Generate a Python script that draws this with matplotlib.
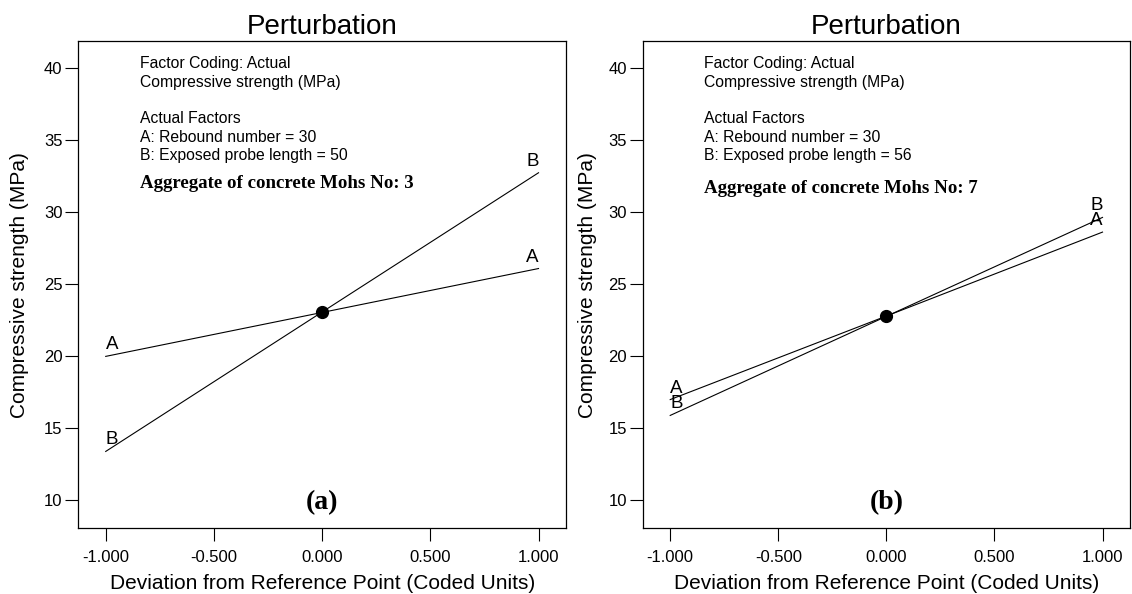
import matplotlib
matplotlib.use("Agg")
import matplotlib.pyplot as plt

plt.rcParams["font.family"] = ["Liberation Sans", "DejaVu Sans"]

# coded deviation from the reference point
x_coded = [-1.0, 0.0, 1.0]

# panel (a): Mohs No 3
a_A = [20.0, 23.05, 26.1]
a_B = [13.4, 23.08, 32.75]
a_ref = 23.08

# panel (b): Mohs No 7
b_A = [17.0, 22.8, 28.63]
b_B = [15.9, 22.78, 29.65]
b_ref = 22.8

y_ticks = [10, 15, 20, 25, 30, 35, 40]
x_ticks = [-1.0, -0.5, 0.0, 0.5, 1.0]
x_ticklabels = ["-1.000", "-0.500", "0.000", "0.500", "1.000"]

panels = [
    {"A": a_A, "B": a_B, "ref": a_ref, "probe": 50, "mohs": 3, "tag": "(a)",
     "bold_y": 31.69, "ylab_x": -0.1015},
    {"A": b_A, "B": b_B, "ref": b_ref, "probe": 56, "mohs": 7, "tag": "(b)",
     "bold_y": 31.34, "ylab_x": -0.094},
]

fig = plt.figure(figsize=(11.32, 5.94), dpi=100)
ax_pos = [[0.0693, 0.1103, 0.4307, 0.8207],
          [0.568, 0.1103, 0.4302, 0.8207]]

for pos, p in zip(ax_pos, panels):
    ax = fig.add_axes(pos)
    ax.plot(x_coded, p["A"], color="black", lw=0.8)
    ax.plot(x_coded, p["B"], color="black", lw=0.8)
    ax.plot([0.0], [p["ref"]], "o", color="black", ms=8.5)

    # factor letters just above the line ends
    for name in ["A", "B"]:
        ys = p[name]
        for xe, ye in [(x_coded[0], ys[0]), (x_coded[-1], ys[-1])]:
            xt = xe * 0.972
            ax.text(xt, ye + 0.8, name, ha="center", va="center", fontsize=13.5)

    # info block
    lines = ["Factor Coding: Actual", "Compressive strength (MPa)", "",
             "Actual Factors", "A: Rebound number = 30",
             "B: Exposed probe length = %d" % p["probe"]]
    for i, s in enumerate(lines):
        ax.annotate(s, xy=(-0.843, 40.0), xytext=(0, -13.2 * i),
                    textcoords="offset points", va="baseline", ha="left",
                    fontsize=11.3)
    ax.text(-0.843, p["bold_y"], "Aggregate of concrete Mohs No: %d" % p["mohs"],
            fontsize=13.6, fontweight="bold", family="Liberation Serif",
            va="baseline", ha="left")
    ax.text(0.0, 9.86, p["tag"], fontsize=20, fontweight="bold",
            family="Liberation Serif", ha="center", va="center")

    ax.set_xlim(-1.126, 1.127)
    ax.set_ylim(8.05, 41.9)
    ax.set_xticks(x_ticks)
    ax.set_xticklabels(x_ticklabels)
    ax.set_yticks(y_ticks)
    ax.tick_params(axis="both", direction="out", length=9.5, width=0.8,
                   labelsize=12, colors="black")
    ax.tick_params(axis="x", pad=6)
    ax.tick_params(axis="y", pad=2)
    for sp in ax.spines.values():
        sp.set_linewidth(0.9)

    ax.set_title("Perturbation", fontsize=20, pad=5)
    ax.set_xlabel("Deviation from Reference Point (Coded Units)", fontsize=15)
    ax.set_ylabel("Compressive strength (MPa)", fontsize=15)
    ax.xaxis.set_label_coords(0.5, -0.094)
    ax.yaxis.set_label_coords(p["ylab_x"], 0.5)

fig.savefig("out.png", dpi=100)
